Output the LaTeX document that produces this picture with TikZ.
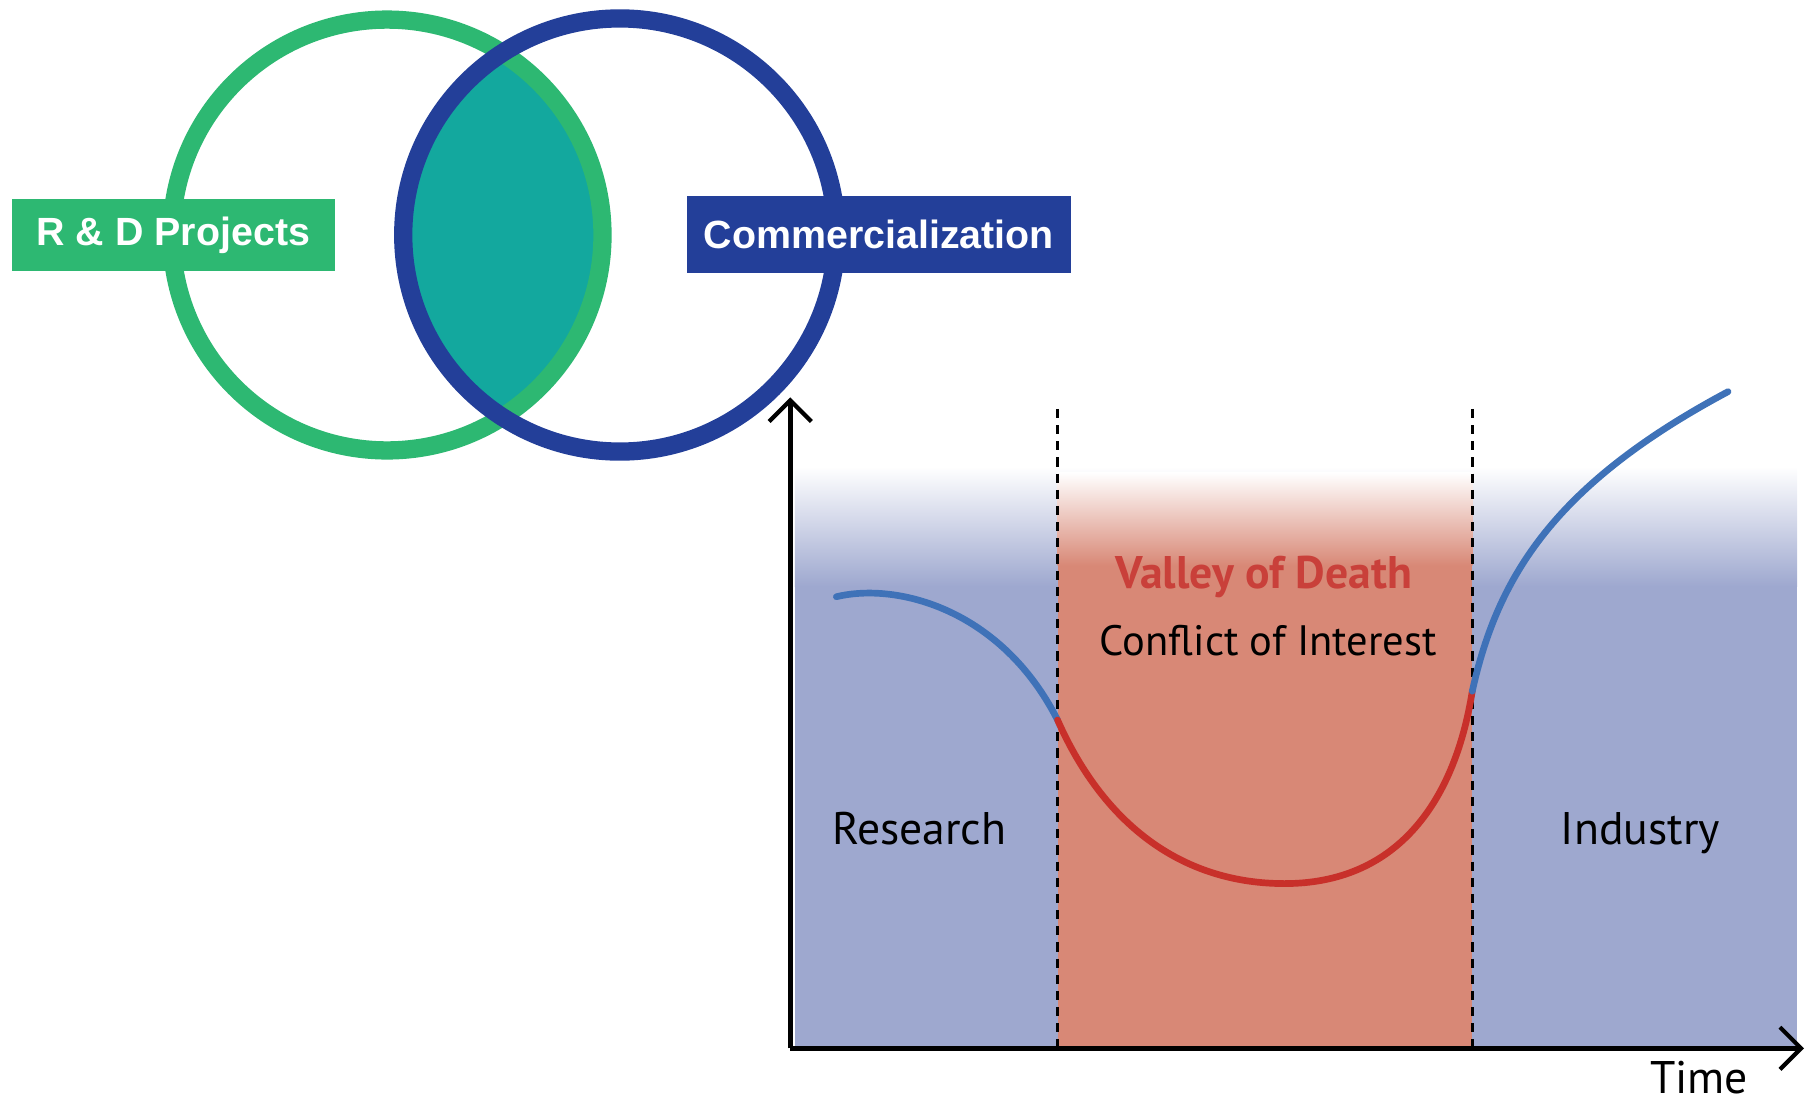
\documentclass[tikz,border=0pt]{standalone}
\usepackage{fontspec}
\usepackage{tikz}
\usetikzlibrary{positioning, arrows.meta, calc}
\newfontfamily\boxfont{Liberation Sans}
\newfontfamily\chartfont{PT Sans}

\definecolor{rdgreen}{RGB}{45,184,114}
\definecolor{combblue}{RGB}{35,63,153}
\definecolor{lensteal}{RGB}{19,168,158}
\definecolor{bgblue}{RGB}{158,168,207}
\definecolor{bgred}{RGB}{216,136,118}
\definecolor{curveblue}{RGB}{63,114,184}
\definecolor{curvered}{RGB}{200,48,42}
\definecolor{valleyred}{RGB}{201,64,58}

\begin{document}
\begin{tikzpicture}[x=0.01152cm, y=-0.01152cm]
			\tikzset{ring/.style={line width=5.2pt}}
			\tikzset{tag/.style={inner sep=0pt, text=white, font=\boxfont\bfseries\fontsize{11.2}{13}\selectfont}}
			\tikzset{axis/.style={line width=1.3pt, -{Straight Barb[length=6pt, width=12pt, line width=1.2pt]}}}
			\tikzset{border/.style={dash pattern=on 2.6pt off 2pt, line width=0.8pt}}
			\tikzset{curve/.style={line width=1.9pt, line cap=round}}
			\tikzset{chartlabel/.style={anchor=base, inner sep=0pt, font=\chartfont\fontsize{13}{15}\selectfont}}

			\useasboundingbox (0,0) rectangle (1567.7,958.3);

			% background of the chart
			\fill[bgblue] (690,508) rectangle (1560,910);
			\shade[top color=white, bottom color=bgblue] (690,405) rectangle (1560,509);
			\fill[bgred] (918,490) rectangle (1278,910);
			\shade[top color=white, bottom color=bgred] (918,410) rectangle (1278,491);

			% venn
			\begin{scope}
				\clip (336,204) circle[radius=187];
				\fill[lensteal] (538,204) circle[radius=188];
			\end{scope}
			\draw[ring, rdgreen] (336,204) circle[radius=187];
			\draw[ring, combblue] (538,204) circle[radius=188];

			\node (rd) [tag, fill=rdgreen, minimum width=3.237cm, minimum height=0.714cm] at (150.5,204) {R \& D Projects};
			\node (comm) [tag, fill=combblue, minimum width=3.848cm, minimum height=0.772cm] at (763,203.5) {Commercialization};

			% axes
			\coordinate (origin) at (686,910);
			\coordinate (ytip) at (686,345);
			\coordinate (xtip) at (1566,910);
			\draw[axis] (origin) -- (ytip);
			\draw[axis] (origin) -- (xtip);

			\draw[border] (918,355) -- (918,910);
			\draw[border] (1278,355) -- (1278,910);

			% curve
			\draw[curve, curveblue] (726,518) .. controls (780,505) and (870,530) .. (918,625);
			\draw[curve, curvered] (918,625) .. controls (960,720) and (1030,767) .. (1115,767) .. controls (1210,767) and (1262,700) .. (1278,600);
			\draw[curve, curveblue] (1278,600) .. controls (1300,500) and (1350,420) .. (1500,340);

			\node (valley) [chartlabel, text=valleyred, font=\chartfont\bfseries\fontsize{13}{15}\selectfont] at (1097,511) {Valley of Death};
			\node (conflict) [chartlabel, font=\chartfont\fontsize{12.1}{14}\selectfont] at (1101,569) {Conflict of Interest};
			\node (research) [chartlabel] at (798,733) {Research};
			\node (industry) [chartlabel] at (1424,733) {Industry};
			\node (time) [chartlabel] at (1475,949) {Time};
\end{tikzpicture}
\end{document}
